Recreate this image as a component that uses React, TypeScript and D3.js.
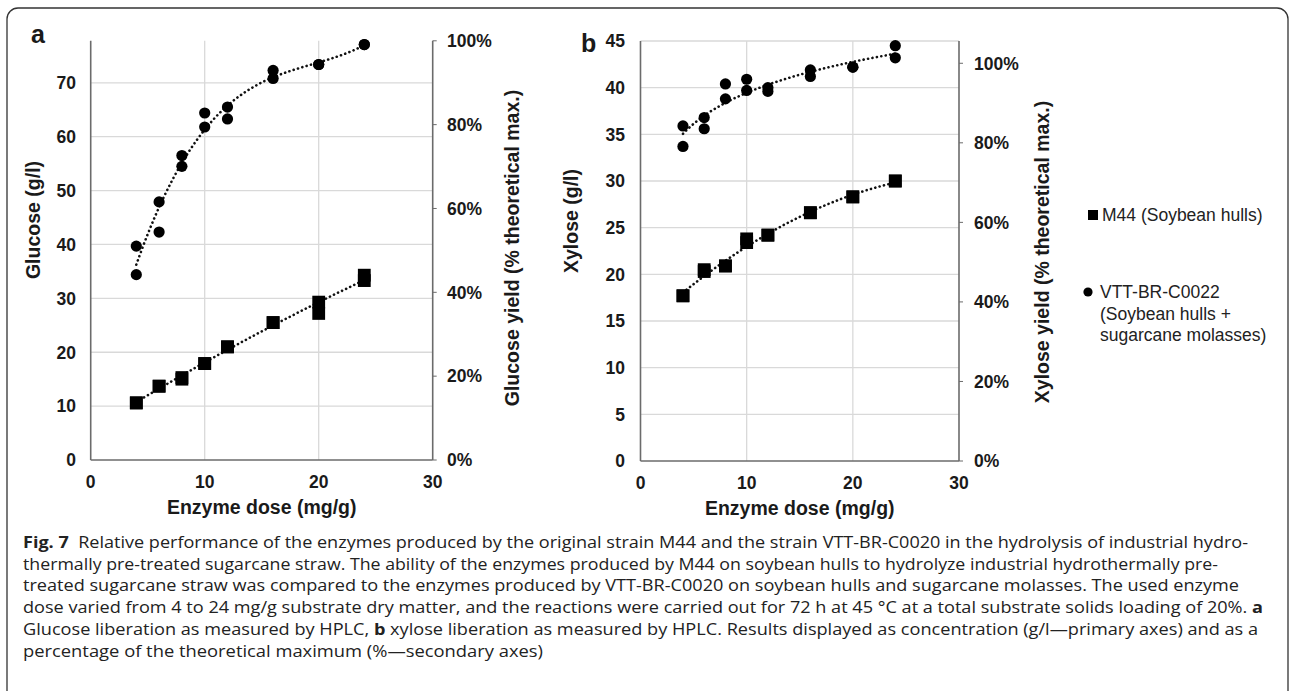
import * as d3 from 'd3'

// enzyme doses (mg/g), two replicates per dose
const doses = [4, 6, 8, 10, 12, 16, 20, 24]

// panel a: glucose (g/l)
const glucoseM44A = [10.6, 13.7, 15.0, 17.9, 21.0, 25.5, 29.3, 34.3]
const glucoseM44B = [10.6, 13.7, 15.3, 17.9, 21.0, 25.5, 27.2, 33.3]
const glucoseVttA = [39.7, 47.9, 56.5, 64.4, 65.5, 72.3, 73.4, 77.1]
const glucoseVttB = [34.4, 42.3, 54.5, 61.8, 63.3, 70.8, 73.4, 77.1]

// panel b: xylose (g/l)
const xyloseM44A = [17.7, 20.5, 20.9, 23.8, 24.2, 26.6, 28.3, 30.0]
const xyloseM44B = [17.7, 20.3, 20.9, 23.4, 24.2, 26.6, 28.3, 30.0]
const xyloseVttA = [35.9, 36.8, 40.4, 40.9, 40.0, 41.9, 42.2, 44.5]
const xyloseVttB = [33.7, 35.6, 38.8, 39.7, 39.6, 41.2, 42.2, 43.2]

const doseTicks = [0, 10, 20, 30]
const glucoseTicks = [0, 10, 20, 30, 40, 50, 60, 70]
const xyloseTicks = [0, 5, 10, 15, 20, 25, 30, 35, 40, 45]
const yieldTicks = [0, 20, 40, 60, 80, 100]

const seriesNames = ['M44 (Soybean hulls)', 'VTT-BR-C0022']
const vttSubLines = ['(Soybean hulls +', 'sugarcane molasses)']

const captionLines = [
  [['b', 'Fig. 7'], ['n', '  Relative performance of the enzymes produced by the original strain M44 and the strain VTT-BR-C0020 in the hydrolysis of industrial hydro-']],
  [['n', 'thermally pre-treated sugarcane straw. The ability of the enzymes produced by M44 on soybean hulls to hydrolyze industrial hydrothermally pre-']],
  [['n', 'treated sugarcane straw was compared to the enzymes produced by VTT-BR-C0020 on soybean hulls and sugarcane molasses. The used enzyme']],
  [['n', 'dose varied from 4 to 24 mg/g substrate dry matter, and the reactions were carried out for 72 h at 45 °C at a total substrate solids loading of 20%. '], ['b', 'a']],
  [['n', 'Glucose liberation as measured by HPLC, '], ['b', 'b'], ['n', ' xylose liberation as measured by HPLC. Results displayed as concentration (g/l—primary axes) and as a']],
  [['n', 'percentage of the theoretical maximum (%—secondary axes)']],
]
const captionEnds = [1248, 1218, 1239, 1263, 1258, 543]

// least squares polynomial, like a spreadsheet trendline
function polyfit(xs: number[], ys: number[], order: number) {
  const n = order + 1
  const m = Array.from({ length: n }, () => Array(n + 1).fill(0))
  for (let i = 0; i < n; i++) {
    for (let j = 0; j < n; j++) m[i][j] = d3.sum(xs, x => Math.pow(x, i + j))
    m[i][n] = d3.sum(xs, (x, k) => ys[k] * Math.pow(x, i))
  }
  for (let c = 0; c < n; c++) {
    let p = c
    for (let r = c + 1; r < n; r++) if (Math.abs(m[r][c]) > Math.abs(m[p][c])) p = r
    ;[m[c], m[p]] = [m[p], m[c]]
    for (let r = 0; r < n; r++) {
      if (r === c) continue
      const f = m[r][c] / m[c][c]
      for (let k = c; k <= n; k++) m[r][k] -= f * m[c][k]
    }
  }
  const coef = m.map((row, i) => row[n] / row[i])
  return (x: number) => coef.reduce((s, c, i) => s + c * Math.pow(x, i), 0)
}

// fit = polynomial order, or 'log' for a logarithmic trendline
function trendFn(xs: number[], ys: number[], fit: number | 'log') {
  if (fit === 'log') {
    const f = polyfit(xs.map(Math.log), ys, 1)
    return (x: number) => f(Math.log(x))
  }
  return polyfit(xs, ys, fit)
}

const FONT = "'Liberation Sans', Arial, sans-serif"
const GRID = '#d9d9d9'
const AXIS = '#6b6b6b'

const panels = [
  {
    tag: 'a', tagX: 31, tagY: 43,
    x0: 90.7, x1: 432.7, yTop: 40.8, yBottom: 460, yMax: 77.8, pctMax: 100,
    ticks: glucoseTicks, topGrid: false,
    m44: [glucoseM44A, glucoseM44B], vtt: [glucoseVttA, glucoseVttB],
    m44Fit: 2 as number | 'log', vttFit: 3 as number | 'log',
    leftTitle: 'Glucose (g/l)', leftTitleX: 33, leftTitleY: 220,
    rightTitle: 'Glucose yield (% theoretical max.)', rightTitleX: 512, rightTitleY: 248,
    leftLabelX: 76, rightLabelX: 447,
  },
  {
    tag: 'b', tagX: 581, tagY: 52,
    x0: 640.5, x1: 959, yTop: 41, yBottom: 461, yMax: 45, pctMax: 105.6,
    ticks: xyloseTicks, topGrid: true,
    m44: [xyloseM44A, xyloseM44B], vtt: [xyloseVttA, xyloseVttB],
    m44Fit: 2 as number | 'log', vttFit: 'log' as number | 'log',
    leftTitle: 'Xylose (g/l)', leftTitleX: 571, leftTitleY: 221,
    rightTitle: 'Xylose yield (% theoretical max.)', rightTitleX: 1042, rightTitleY: 252,
    leftLabelX: 625, rightLabelX: 974,
  },
]

function Panel({ p }: { p: (typeof panels)[number] }) {
  const x = d3.scaleLinear().domain([0, 30]).range([p.x0, p.x1])
  const y = d3.scaleLinear().domain([0, p.yMax]).range([p.yBottom, p.yTop])
  const yPct = d3.scaleLinear().domain([0, p.pctMax]).range([p.yBottom, p.yTop])

  const trend = (reps: number[][], fit: number | 'log') => {
    const f = trendFn([...doses, ...doses], [...reps[0], ...reps[1]], fit)
    const pts = d3.range(4, 24.01, 0.25).map(v => [v, f(v)] as [number, number])
    return d3.line().x(d => x(d[0])).y(d => y(d[1]))(pts) || ''
  }

  const gridTicks = p.ticks.filter(t => t > 0 && (p.topGrid || t < p.yMax))
  const midX = (p.x0 + p.x1) / 2

  return (
    <g fontFamily={FONT} fontWeight={700} fill="#1a1a1a">
      {gridTicks.map(t => (
        <line key={'h' + t} x1={p.x0} x2={p.x1} y1={y(t)} y2={y(t)} stroke={GRID} strokeWidth={1.3} />
      ))}
      {doseTicks.filter(t => t > 0 && t < 30).map(t => (
        <line key={'v' + t} x1={x(t)} x2={x(t)} y1={p.yTop} y2={p.yBottom} stroke={GRID} strokeWidth={1.3} />
      ))}
      <line x1={p.x0} x2={p.x0} y1={p.yTop} y2={p.yBottom} stroke={AXIS} strokeWidth={1.6} />
      <line x1={p.x1} x2={p.x1} y1={p.yTop} y2={p.yBottom} stroke={AXIS} strokeWidth={1.6} />
      <line x1={p.x0} x2={p.x1} y1={p.yBottom} y2={p.yBottom} stroke={AXIS} strokeWidth={1.6} />
      {yieldTicks.map(t => (
        <line key={'rt' + t} x1={p.x1} x2={p.x1 + 4} y1={yPct(t)} y2={yPct(t)} stroke={AXIS} strokeWidth={1} />
      ))}

      {p.ticks.map(t => (
        <text key={'l' + t} x={p.leftLabelX} y={y(t)} dy="0.36em" textAnchor="end" fontSize={17.5}>{t}</text>
      ))}
      {yieldTicks.map(t => (
        <text key={'r' + t} x={p.rightLabelX} y={yPct(t)} dy="0.36em" fontSize={17.5}>{t + '%'}</text>
      ))}
      {doseTicks.map(t => (
        <text key={'x' + t} x={x(t)} y={p.yBottom + 28} textAnchor="middle" fontSize={17.5}>{t}</text>
      ))}
      <text x={midX} y={p.yBottom + 54} textAnchor="middle" fontSize={19.5}>Enzyme dose (mg/g)</text>
      <text transform={`translate(${p.leftTitleX},${p.leftTitleY}) rotate(-90)`} dy="0.35em" textAnchor="middle" fontSize={19.5}>{p.leftTitle}</text>
      <text transform={`translate(${p.rightTitleX},${p.rightTitleY}) rotate(-90)`} dy="0.35em" textAnchor="middle" fontSize={19.5}>{p.rightTitle}</text>
      <text x={p.tagX} y={p.tagY} fontSize={25}>{p.tag}</text>

      <path d={trend(p.m44, p.m44Fit)} fill="none" stroke="#111" strokeWidth={2.6} strokeDasharray="0.1 4.4" strokeLinecap="round" />
      <path d={trend(p.vtt, p.vttFit)} fill="none" stroke="#111" strokeWidth={2.6} strokeDasharray="0.1 4.4" strokeLinecap="round" />

      {p.m44.map((rep, r) => rep.map((v, i) => (
        <rect key={`s${r}-${i}`} x={x(doses[i]) - 6.4} y={y(v) - 6.4} width={12.8} height={12.8} fill="#000" />
      )))}
      {p.vtt.map((rep, r) => rep.map((v, i) => (
        <circle key={`c${r}-${i}`} cx={x(doses[i])} cy={y(v)} r={5.6} fill="#000" />
      )))}
    </g>
  )
}

export default function App() {
  return (
    <svg width={1292} height={691} style={{ position: 'absolute', left: 0, top: 0, background: '#fff' }}>
      <rect x={0} y={0} width={1292} height={691} fill="#fff" />
      <rect x={7} y={8} width={1281} height={720} rx={11} fill="none" stroke="#333" strokeWidth={1.3} />

      {panels.map(p => <Panel key={p.tag} p={p} />)}

      <g fontFamily={FONT} fontSize={17.5} fill="#222">
        <rect x={1088} y={210} width={10} height={10} fill="#000" />
        <text x={1102} y={215} dy="0.36em">{seriesNames[0]}</text>
        <circle cx={1088} cy={292} r={4.6} fill="#000" />
        <text x={1100} y={292} dy="0.36em">{seriesNames[1]}</text>
        {vttSubLines.map((s, i) => (
          <text key={s} x={1100} y={292 + 21.5 * (i + 1)} dy="0.36em">{s}</text>
        ))}
      </g>

      <g fontFamily="'Open Sans', 'Noto Sans', sans-serif" fontSize={16.2} fill="#222">
        {captionLines.map((parts, i) => (
          <text key={i} x={23} y={548 + 21.7 * i} textLength={captionEnds[i] - 23} lengthAdjust="spacingAndGlyphs" style={{ whiteSpace: 'pre' }}>
            {parts.map((pt, j) => (
              <tspan key={j} fontWeight={pt[0] === 'b' ? 700 : 400}>{pt[1]}</tspan>
            ))}
          </text>
        ))}
      </g>
    </svg>
  )
}
